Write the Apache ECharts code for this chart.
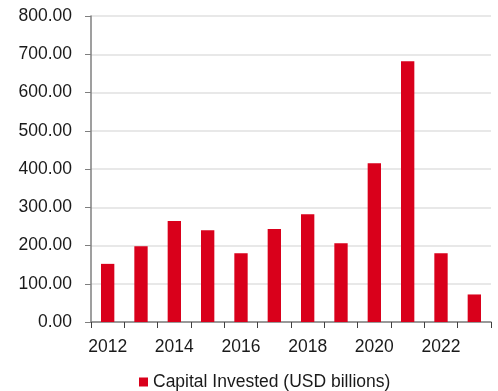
<!DOCTYPE html>
<html>
<head>
<meta charset="utf-8">
<script src="https://cdn.jsdelivr.net/npm/echarts@6/dist/echarts.min.js"></script>
<style>
  html, body { margin: 0; padding: 0; background: #fff; }
  #chart { width: 498px; height: 391px; }
</style>
</head>
<body>
<div id="chart"></div>
<script>
// Yearly capital invested, USD billions
const years = ['2012', '2013', '2014', '2015', '2016', '2017', '2018', '2019', '2020', '2021', '2022', '2023'];
const capitalInvested = [152, 198, 264, 240, 180, 243, 282, 206, 415, 682, 180, 72];
const seriesName = 'Capital Invested (USD billions)';

const FONT = '"Liberation Sans", Arial, sans-serif';
const FONT_SIZE = 17.5;
const chart = echarts.init(document.getElementById('chart'), null, { renderer: 'canvas' });

chart.setOption({
  animation: false,
  backgroundColor: '#ffffff',
  grid: { left: 91, right: 7, top: 16, bottom: 69, containLabel: false },
  legend: {
    data: [seriesName],
    left: 134,
    top: 368,
    itemWidth: 9,
    itemHeight: 9,
    itemGap: 5,
    icon: 'rect',
    textStyle: { fontFamily: FONT, fontSize: FONT_SIZE, color: '#1a1a1a' }
  },
  xAxis: {
    type: 'category',
    data: years,
    boundaryGap: true,
    axisLine: { lineStyle: { color: '#7f7f7f', width: 1.5 } },
    axisTick: { show: true, length: 6, interval: 0, lineStyle: { color: '#404040' } },
    axisLabel: {
      interval: 1,
      margin: 16,
      fontFamily: FONT,
      fontSize: FONT_SIZE,
      color: '#1a1a1a'
    },
    splitLine: { show: false }
  },
  yAxis: {
    type: 'value',
    min: 0,
    max: 800,
    interval: 100,
    axisLine: { show: true, lineStyle: { color: '#7f7f7f', width: 1.5 } },
    axisTick: { show: true, length: 6, lineStyle: { color: '#7f7f7f' } },
    axisLabel: {
      margin: 19,
      fontFamily: FONT,
      fontSize: FONT_SIZE,
      color: '#1a1a1a',
      formatter: v => v.toFixed(2)
    },
    splitLine: { show: true, lineStyle: { color: '#e0e0e0', width: 1.5 } }
  },
  series: [{
    name: seriesName,
    type: 'bar',
    data: capitalInvested,
    barWidth: '40%',
    itemStyle: { color: '#d9001b' }
  }]
});
</script>
</body>
</html>
